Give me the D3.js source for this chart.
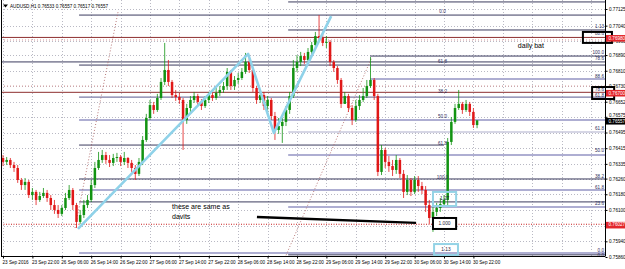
<!DOCTYPE html>
<html>
<head>
<meta charset="utf-8">
<script src="https://cdn.jsdelivr.net/npm/d3@7"></script>
<style>
body { margin: 0; background: #fff; }
svg { display: block; font-family: "Liberation Sans", Arial, sans-serif; }
</style>
</head>
<body>
<svg id="chart" width="625" height="269"></svg>
<script>
var width = 625, height = 269;

// header
var symbol = "AUDUSD,H1";
var lastBar = [0.76533, 0.76557, 0.76517, 0.76557];

// H1 candles, open of each bar = close of the bar before
var firstOpen = 0.76365;
var closes = [
  0.76345, 0.76355, 0.76329, 0.76314, 0.76253, 0.76227, 0.76243, 0.76176, 0.76192, 0.76151,
  0.76171, 0.76187, 0.76161, 0.76125, 0.76100, 0.76080, 0.76110, 0.76161, 0.76202, 0.76125,
  0.76039, 0.76074, 0.76125, 0.76151, 0.76227, 0.76314, 0.76355, 0.76380, 0.76355, 0.76340,
  0.76365, 0.76370, 0.76345, 0.76365, 0.76340, 0.76314, 0.76284, 0.76345, 0.76457, 0.76569,
  0.76635, 0.76610, 0.76671, 0.76753, 0.76814, 0.76753, 0.76686, 0.76676, 0.76661, 0.76559,
  0.76620, 0.76661, 0.76681, 0.76651, 0.76630, 0.76661, 0.76686, 0.76671, 0.76697, 0.76712,
  0.76732, 0.76804, 0.76732, 0.76763, 0.76773, 0.76804, 0.76855, 0.76814, 0.76722, 0.76661,
  0.76686, 0.76630, 0.76661, 0.76579, 0.76508, 0.76528, 0.76549, 0.76610, 0.76681, 0.76824,
  0.76855, 0.76885, 0.76865, 0.76906, 0.76941, 0.76987, 0.76977, 0.76952, 0.76957, 0.76855,
  0.76824, 0.76763, 0.76641, 0.76681, 0.76620, 0.76559, 0.76630, 0.76661, 0.76681, 0.76732,
  0.76763, 0.76681, 0.76294, 0.76406, 0.76345, 0.76324, 0.76304, 0.76355, 0.76284, 0.76192,
  0.76253, 0.76192, 0.76253, 0.76222, 0.76202, 0.76125, 0.76059, 0.76090, 0.76110, 0.76130,
  0.76151, 0.76447, 0.76549, 0.76620, 0.76641, 0.76610, 0.76641, 0.76600, 0.76533, 0.76557
];
var highs = [
  0.76380, 0.76370, 0.76365, 0.76345, 0.76329, 0.76263, 0.76263, 0.76253, 0.76212, 0.76202,
  0.76192, 0.76212, 0.76202, 0.76176, 0.76151, 0.76125, 0.76125, 0.76187, 0.76227, 0.76212,
  0.76136, 0.76100, 0.76151, 0.76176, 0.76253, 0.76345, 0.76396, 0.76406, 0.76396, 0.76380,
  0.76386, 0.76391, 0.76380, 0.76396, 0.76370, 0.76355, 0.76329, 0.76365, 0.76477, 0.76590,
  0.76661, 0.76651, 0.76692, 0.76773, 0.76952, 0.76865, 0.76763, 0.76712, 0.76697, 0.76671,
  0.76641, 0.76681, 0.76702, 0.76692, 0.76666, 0.76681, 0.76702, 0.76702, 0.76722, 0.76732,
  0.76753, 0.76824, 0.76814, 0.76783, 0.76799, 0.76824, 0.76901, 0.76875, 0.76824, 0.76732,
  0.76712, 0.76702, 0.76681, 0.76671, 0.76600, 0.76569, 0.76569, 0.76630, 0.76702, 0.76865,
  0.76890, 0.76906, 0.76901, 0.76926, 0.76957, 0.77008, 0.77094, 0.77003, 0.76987, 0.76967,
  0.76865, 0.76834, 0.76773, 0.76702, 0.76692, 0.76635, 0.76661, 0.76686, 0.76722, 0.76763,
  0.76880, 0.76773, 0.76692, 0.76431, 0.76416, 0.76375, 0.76355, 0.76380, 0.76365, 0.76304,
  0.76278, 0.76263, 0.76273, 0.76273, 0.76243, 0.76222, 0.76151, 0.76120, 0.76136, 0.76161,
  0.76176, 0.76467, 0.76574, 0.76641, 0.76712, 0.76651, 0.76661, 0.76651, 0.76620, 0.76557
];
var lows = [
  0.76324, 0.76329, 0.76314, 0.76294, 0.76238, 0.76202, 0.76202, 0.76161, 0.76151, 0.76125,
  0.76141, 0.76161, 0.76141, 0.76100, 0.76080, 0.76059, 0.76069, 0.76100, 0.76151, 0.76100,
  0.76008, 0.76029, 0.76059, 0.76110, 0.76141, 0.76212, 0.76304, 0.76340, 0.76335, 0.76319,
  0.76324, 0.76345, 0.76324, 0.76329, 0.76314, 0.76294, 0.76253, 0.76273, 0.76329, 0.76447,
  0.76559, 0.76590, 0.76600, 0.76661, 0.76737, 0.76732, 0.76671, 0.76656, 0.76641, 0.76406,
  0.76539, 0.76600, 0.76646, 0.76630, 0.76610, 0.76620, 0.76646, 0.76656, 0.76661, 0.76681,
  0.76697, 0.76712, 0.76712, 0.76712, 0.76743, 0.76763, 0.76794, 0.76799, 0.76702, 0.76641,
  0.76646, 0.76610, 0.76600, 0.76559, 0.76457, 0.76488, 0.76442, 0.76528, 0.76590, 0.76671,
  0.76804, 0.76834, 0.76845, 0.76855, 0.76890, 0.76931, 0.76957, 0.76936, 0.76926, 0.76834,
  0.76804, 0.76743, 0.76620, 0.76641, 0.76600, 0.76533, 0.76549, 0.76610, 0.76651, 0.76671,
  0.76722, 0.76661, 0.76273, 0.76278, 0.76314, 0.76294, 0.76273, 0.76284, 0.76263, 0.76161,
  0.76176, 0.76171, 0.76181, 0.76192, 0.76181, 0.76090, 0.76029, 0.75988, 0.76069, 0.76090,
  0.76115, 0.76125, 0.76431, 0.76539, 0.76610, 0.76590, 0.76600, 0.76579, 0.76518, 0.76517
];

// axes
var timeLabels = ["23 Sep 2016", "23 Sep 22:00", "26 Sep 06:00", "26 Sep 14:00", "26 Sep 22:00",
  "27 Sep 06:00", "27 Sep 14:00", "27 Sep 22:00", "28 Sep 06:00", "28 Sep 14:00", "28 Sep 22:00",
  "29 Sep 06:00", "29 Sep 14:00", "29 Sep 22:00", "30 Sep 06:00", "30 Sep 14:00", "30 Sep 22:00"];
var barsPerLabel = 8;
var priceTicks = [0.77125, 0.77040, 0.76960, 0.76890, 0.76810, 0.76730, 0.76652, 0.76575,
  0.76495, 0.76415, 0.76335, 0.76260, 0.76180, 0.76100, 0.76020, 0.75940, 0.75860];

// horizontal objects: [price, from bar, to bar (null = right edge), kind]
var levels = [
  [0.77161, 77.6, null, "dark"],
  [0.77094, 20.7, null, "dark"],
  [0.77018, 77.6, null, "dark"],
  [0.76967, -1, null, "pinkdot"],
  [0.76980, -1, null, "maroon"],
  [0.76885, 99.9, null, "dark"],
  [0.76855, -1, null, "dark"],
  [0.76839, 20.7, null, "dark"],
  [0.76768, 99.9, null, "lav"],
  [0.76732, -1, null, "pinkdot"],
  [0.76700, -1, null, "maroon"],
  [0.76676, 20.7, null, "mid"],
  [0.76559, 20.7, null, "lav"],
  [0.76498, 77.6, null, "light"],
  [0.76431, 20.7, 120, "dark"],
  [0.76380, 77.6, null, "lav"],
  [0.76258, 20.7, null, "dark"],
  [0.76202, 20.7, null, "lav"],
  [0.76141, 20.7, null, "dark"],
  [0.76115, 77.6, null, "lav"],
  [0.76027, -1, null, "reddot"],
  [0.75881, 20.7, null, "lav"],
  [0.75871, 77.6, null, "dark"]
];

// price boxes on the scale
var priceTags = [[0.76980, "red"], [0.76700, "red"], [0.76027, "red"], [0.76557, "black"]];

// fibo level texts
var midFibBar = 119.6;
var midFibLabels = [[0.77110, "0.0"], [0.76855, "61.8"], [0.76702, "38.2"], [0.76574, "50.0"],
  [0.76436, "61.8"], [0.76263, "100.0"]];
var rightFibLabels = [[0.77033, "1.13"], [0.76998, "88.6"], [0.76901, "100.0"], [0.76870, "78.6"],
  [0.76778, "88.6"], [0.76712, "78.6"], [0.76681, "61.8"], [0.76513, "61.8"], [0.76401, "50.0"],
  [0.76268, "38.2"], [0.76212, "61.8"], [0.76130, "23.6"], [0.75891, "0.0"], [0.75865, "0.0"]];

// drawn objects
var pattern = [[20.4, 0.76003], [66.7, 0.76896], [73.7, 0.76493], [89.3, 0.77089]];
var dottedTrends = [[[19.6, 0.76008], [31.3, 0.77110]], [[76.7, 0.75855], [100.4, 0.76880]]];
var blackTrend = [[69.1, 0.76064], [112.4, 0.76034]];
var boxes = [
  [117.0, 123.3, 0.76192, 0.76120, "cyan", "1.27"],
  [117.3, 123.8, 0.75926, 0.75870, "cyan", "1.13"],
  [117.0, 123.3, 0.76059, 0.76003, "black", "1.000"],
  [157.8, 165.7, 0.77008, 0.76952, "black", ""],
  [160.3, 166.3, 0.76727, 0.76666, "black", ""]
];
var notes = [[140.1, 0.76936, "daily bat"], [46.0, 0.76115, "these are same as"], [46.0, 0.76064, "davits"]];

var plotLeft = 1, plotRight = 605, plotTop = 0, plotBottom = 256;

var x = d3.scaleLinear().domain([0, 160]).range([3, 591]);
var y = d3.scaleLinear().domain([0.75860, 0.77125]).range([257, 9]);

var styles = {
  dark:    { stroke: "#3b3b5e", w: 1, dash: null },
  mid:     { stroke: "#7a7aa4", w: 1.2, dash: null },
  lav:     { stroke: "#aeaed2", w: 2, dash: null },
  light:   { stroke: "#c9c9dc", w: 1.5, dash: null },
  maroon:  { stroke: "#8e2f2f", w: 1, dash: null },
  reddot:  { stroke: "#c81e1e", w: 1, dash: "1,1.5" },
  pinkdot: { stroke: "#d79a9a", w: 1, dash: "1,2" }
};

var candles = closes.map(function(c, i) {
  return { i: i, o: i ? closes[i - 1] : firstOpen, h: highs[i], l: lows[i], c: c };
});

var svg = d3.select("#chart");

svg.append("defs").append("clipPath").attr("id", "plot")
  .append("rect")
  .attr("x", plotLeft).attr("y", plotTop)
  .attr("width", plotRight - plotLeft).attr("height", plotBottom - plotTop);

var plot = svg.append("g").attr("clip-path", "url(#plot)");

// grid
plot.append("g")
  .selectAll("line")
  .data(priceTicks)
  .join("line")
  .attr("x1", plotLeft).attr("x2", plotRight)
  .attr("y1", d => Math.round(y(d)) + 0.5).attr("y2", d => Math.round(y(d)) + 0.5)
  .attr("stroke", "#b9b9c4")
  .attr("stroke-dasharray", "1,2");

plot.append("g")
  .selectAll("line")
  .data(d3.range(0, 21))
  .join("line")
  .attr("x1", d => Math.round(x(d * barsPerLabel)) + 0.5)
  .attr("x2", d => Math.round(x(d * barsPerLabel)) + 0.5)
  .attr("y1", plotTop).attr("y2", plotBottom)
  .attr("stroke", "#b9b9c4")
  .attr("stroke-dasharray", "1,2");

// horizontal levels
plot.append("g")
  .selectAll("line")
  .data(levels)
  .join("line")
  .attr("x1", d => d[1] < 0 ? plotLeft : x(d[1]))
  .attr("x2", d => d[2] == null ? plotRight : x(d[2]))
  .attr("y1", d => y(d[0])).attr("y2", d => y(d[0]))
  .attr("stroke", d => styles[d[3]].stroke)
  .attr("stroke-width", d => styles[d[3]].w)
  .attr("stroke-dasharray", d => styles[d[3]].dash);

// dotted trendlines
plot.append("g")
  .selectAll("line")
  .data(dottedTrends)
  .join("line")
  .attr("x1", d => x(d[0][0])).attr("y1", d => y(d[0][1]))
  .attr("x2", d => x(d[1][0])).attr("y2", d => y(d[1][1]))
  .attr("stroke", "#b06a6a")
  .attr("stroke-width", 0.9)
  .attr("stroke-dasharray", "1,2");

// candles
var candleG = plot.append("g");
candleG.selectAll("line")
  .data(candles)
  .join("line")
  .attr("x1", d => x(d.i)).attr("x2", d => x(d.i))
  .attr("y1", d => y(d.h)).attr("y2", d => y(d.l))
  .attr("stroke", d => d.c >= d.o ? "#129312" : "#e01818")
  .attr("stroke-width", 0.8);

candleG.selectAll("rect")
  .data(candles)
  .join("rect")
  .attr("x", d => x(d.i) - 1.25)
  .attr("width", 2.5)
  .attr("y", d => y(Math.max(d.o, d.c)))
  .attr("height", d => Math.max(0.8, Math.abs(y(d.o) - y(d.c))))
  .attr("fill", d => d.c >= d.o ? "#129312" : "#e01818");

// pattern legs
plot.append("path")
  .datum(pattern)
  .attr("d", d3.line().x(d => x(d[0])).y(d => y(d[1])))
  .attr("fill", "none")
  .attr("stroke", "#8fd2e9")
  .attr("stroke-width", 2.6)
  .attr("stroke-linejoin", "round");

plot.append("line")
  .attr("x1", x(blackTrend[0][0])).attr("y1", y(blackTrend[0][1]))
  .attr("x2", x(blackTrend[1][0])).attr("y2", y(blackTrend[1][1]))
  .attr("stroke", "#000")
  .attr("stroke-width", 2.4);

// annotations
svg.append("g")
  .selectAll("text")
  .data(notes)
  .join("text")
  .attr("x", d => x(d[0])).attr("y", d => y(d[1]))
  .attr("dominant-baseline", "middle")
  .attr("font-size", 7)
  .attr("fill", "#000")
  .text(d => d[2]);

// fibo texts
var fibFont = 4.6;
svg.append("g")
  .selectAll("text")
  .data(midFibLabels)
  .join("text")
  .attr("x", x(midFibBar)).attr("y", d => y(d[0]))
  .attr("text-anchor", "middle")
  .attr("dominant-baseline", "middle")
  .attr("font-size", fibFont)
  .attr("fill", "#2d2d5a")
  .text(d => d[1]);

svg.append("g")
  .selectAll("text")
  .data(rightFibLabels)
  .join("text")
  .attr("x", plotRight - 1).attr("y", d => y(d[0]))
  .attr("text-anchor", "end")
  .attr("dominant-baseline", "middle")
  .attr("font-size", fibFont)
  .attr("fill", "#2d2d5a")
  .text(d => d[1]);

// frame
var frame = svg.append("g").attr("stroke", "#000").attr("stroke-width", 1);
frame.append("line").attr("x1", plotLeft + 0.5).attr("x2", plotLeft + 0.5).attr("y1", plotTop).attr("y2", plotBottom);
frame.append("line").attr("x1", plotRight + 0.5).attr("x2", plotRight + 0.5).attr("y1", plotTop).attr("y2", plotBottom + 0.5);
frame.append("line").attr("x1", plotLeft).attr("x2", plotRight).attr("y1", plotBottom + 0.5).attr("y2", plotBottom + 0.5);

// price axis: a label hidden under a price tag is dropped, one just above a tag is nudged up
var tagY = priceTags.map(d => y(d[0]));
var yAxis = d3.axisRight(y)
  .tickValues(priceTicks)
  .tickSize(2)
  .tickPadding(1.5)
  .tickFormat(d3.format(".5f"));

svg.append("g")
  .attr("transform", `translate(${plotRight + 0.5},0)`)
  .call(yAxis)
  .call(g => g.select(".domain").remove())
  .call(g => g.selectAll("text").attr("font-size", 4.6).attr("font-family", "Liberation Sans, Arial, sans-serif").attr("fill", "#000"))
  .call(g => g.selectAll(".tick").filter(d => tagY.some(t => Math.abs(t - y(d)) < 3)).select("text").remove())
  .call(g => g.selectAll(".tick").filter(d => tagY.some(t => t - y(d) >= 3 && t - y(d) < 5)).select("text").attr("dy", "-0.05em"))
  .call(g => g.selectAll("line").attr("stroke", "#000"));

// time axis
var xAxis = d3.axisBottom(x)
  .tickValues(timeLabels.map((t, k) => k * barsPerLabel))
  .tickSize(2)
  .tickPadding(2.5)
  .tickFormat((d, k) => timeLabels[k]);

svg.append("g")
  .attr("transform", `translate(0,${plotBottom + 0.5})`)
  .call(xAxis)
  .call(g => g.select(".domain").remove())
  .call(g => g.selectAll("text").attr("font-size", 4.6).attr("font-family", "Liberation Sans, Arial, sans-serif").attr("fill", "#000").attr("text-anchor", "start").attr("dx", -1))
  .call(g => g.selectAll("line").attr("stroke", "#000"));

// boxes
var boxG = svg.append("g");
boxG.selectAll("rect")
  .data(boxes)
  .join("rect")
  .attr("x", d => x(d[0])).attr("y", d => y(d[2]))
  .attr("width", d => x(d[1]) - x(d[0]))
  .attr("height", d => y(d[3]) - y(d[2]))
  .attr("fill", d => d[4] == "cyan" ? "none" : (d[5] ? "#fff" : "none"))
  .attr("stroke", d => d[4] == "cyan" ? "#94d3e6" : "#000")
  .attr("stroke-width", 2);

boxG.selectAll("text")
  .data(boxes.filter(d => d[5]))
  .join("text")
  .attr("x", d => (x(d[0]) + x(d[1])) / 2)
  .attr("y", d => (y(d[2]) + y(d[3])) / 2)
  .attr("text-anchor", "middle")
  .attr("dominant-baseline", "middle")
  .attr("font-size", 4.8)
  .attr("fill", "#1c1c3c")
  .text(d => d[5]);

// price tags
var tags = svg.append("g").selectAll("g")
  .data(priceTags)
  .join("g")
  .attr("transform", d => `translate(${plotRight + 1},${y(d[0])})`);

tags.append("rect")
  .attr("x", 0).attr("y", -2.4)
  .attr("width", 20).attr("height", 6.6)
  .attr("fill", d => d[1] == "red" ? "#e3262b" : "#000");

tags.append("text")
  .attr("x", 2.5).attr("y", 1)
  .attr("dominant-baseline", "middle")
  .attr("font-size", 4.6)
  .attr("fill", "#fff")
  .text(d => d3.format(".5f")(d[0]));

// header
svg.append("path")
  .attr("d", "M3,4.5h5l-2.5,3z")
  .attr("fill", "#000");

svg.append("text")
  .attr("x", 10).attr("y", 6.5)
  .attr("font-size", 4.6)
  .attr("fill", "#000")
  .attr("dominant-baseline", "middle")
  .text(symbol + "  " + lastBar.map(d3.format(".5f")).join(" "));
</script>
</body>
</html>
